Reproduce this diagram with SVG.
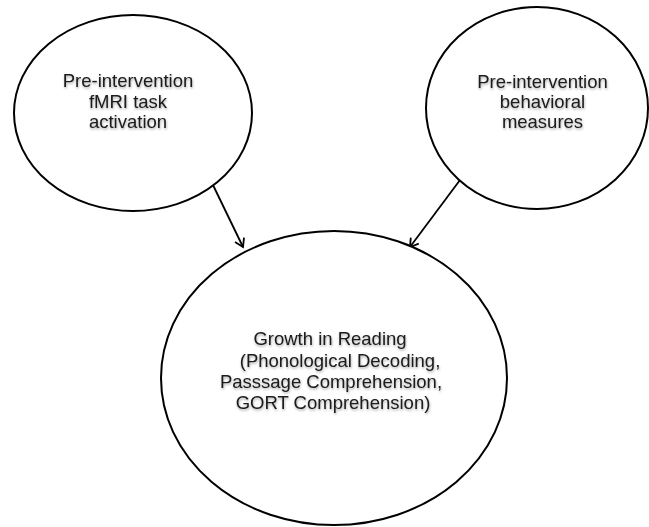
<svg xmlns="http://www.w3.org/2000/svg" width="649" height="527" viewBox="0 0 649 527">
<defs>
<style>
.node ellipse{fill:#fff;stroke:#000;stroke-width:2}
.node text{font-family:"Liberation Sans",Arial,sans-serif;font-size:18.5px;fill:#1a1a1a;text-anchor:middle;filter:url(#sh)}
.edge{stroke:#000;stroke-width:1.8;fill:none;marker-end:url(#arr)}
</style>
<filter id="sh" x="-10%" y="-20%" width="120%" height="150%">
<feDropShadow dx="0.5" dy="1.5" stdDeviation="1" flood-color="#000" flood-opacity="0.35"/>
</filter>
<marker id="arr" markerWidth="12" markerHeight="12" refX="10" refY="6" orient="auto" markerUnits="userSpaceOnUse">
<path d="M2,1 L10,6 L2,11" fill="none" stroke="#000" stroke-width="1.8"/>
</marker>
</defs>
<rect width="649" height="527" fill="#fff"/>
<g id="connectors">
<line class="edge" x1="212" y1="183" x2="243" y2="247"/>
<line class="edge" x1="460" y1="180" x2="410" y2="247"/>
</g>
<g id="fmri" class="node">
<ellipse cx="133" cy="113" rx="119" ry="98"/>
<text x="128" y="87">Pre-intervention</text>
<text x="128" y="107.5">fMRI task</text>
<text x="128" y="128">activation</text>
</g>
<g id="behavioral" class="node">
<ellipse cx="537" cy="108" rx="111" ry="101"/>
<text x="542.5" y="88">Pre-intervention</text>
<text x="542.5" y="108">behavioral</text>
<text x="542.5" y="128">measures</text>
</g>
<g id="growth" class="node">
<ellipse cx="334" cy="378" rx="173" ry="147"/>
<text x="330" y="345">Growth in Reading</text>
<text x="340" y="366.5">(Phonological Decoding,</text>
<text x="331" y="388">Passsage Comprehension,</text>
<text x="333" y="409">GORT Comprehension)</text>
</g>
</svg>
